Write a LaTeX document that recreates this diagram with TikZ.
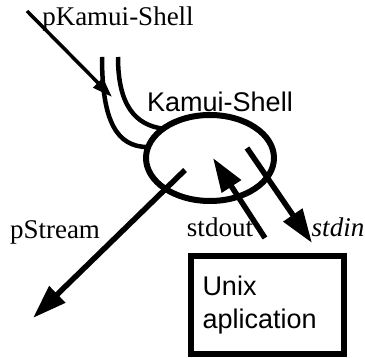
\documentclass[tikz,border=0pt]{standalone}
\usepackage{fontspec}
\setmainfont{Liberation Serif}
\setsansfont{Liberation Sans}
\usetikzlibrary{shapes.geometric,arrows.meta}
\tikzset{
    lbl/.style={font=\fontsize{27}{33}\selectfont},
    sanslbl/.style={font=\fontsize{27}{33}\selectfont\sffamily},
    pipe/.style={line width=4.5pt},
    flow/.style={line width=5.5pt,-{Triangle[length=34pt,width=22pt]}}
}

\begin{document}
\begin{tikzpicture}[x=1pt,y=-1pt]
\useasboundingbox (0,0) rectangle (365,358);

\node[draw,ellipse,line width=6pt,minimum width=128pt,minimum height=86pt,
    outer sep=0pt] (shell) at (210,158) {};
\node[draw,line width=6pt,minimum width=153pt,minimum height=98pt,
    text width=130pt,inner xsep=11.5pt,align=left,sanslbl] (app) at (267.5,305)
    {Unix\\aplication};

\node[lbl,anchor=base] (pshell) at (118,26) {pKamui-Shell};
\node[sanslbl,anchor=base] (shellname) at (220,112) {Kamui-Shell};
\node[lbl,anchor=base] (pstream) at (55,239) {pStream};
\node[lbl,anchor=base] (stdout) at (220,237) {stdout};
\node[lbl,anchor=base] (stdin) at (338,237) {\itshape stdin};

% the pipe into the shell
\coordinate (pipeout) at (102,57);
\coordinate (pipein) at (118,57);
\draw[pipe] (pipeout) .. controls (102,122) and (117,147) .. (shell.170);
\draw[pipe] (pipein) .. controls (118,105) and (135,125) .. (shell.148);

\coordinate (src) at (27,11);
\coordinate (srctip) at (112,97);
\draw[line width=3.5pt,-{Triangle[length=20pt,width=13pt]}] (src) -- (srctip);

% streams
\coordinate (streamfrom) at (185,170);
\coordinate (streamto) at (33,318);
\coordinate (outfrom) at (265,238);
\coordinate (outto) at (213,158);
\coordinate (infrom) at (247,148);
\coordinate (into) at (312,243);
\draw[flow] (streamfrom) -- (streamto);
\draw[flow] (outfrom) -- (outto);
\draw[flow] (infrom) -- (into);
\end{tikzpicture}
\end{document}
